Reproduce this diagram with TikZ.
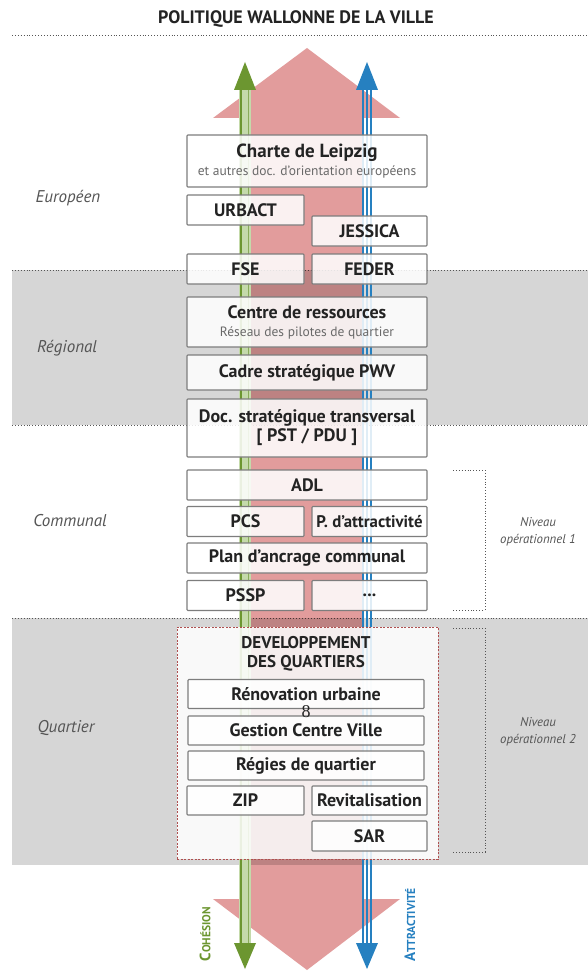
\documentclass[tikz,border=0pt]{standalone}
\usepackage{fontspec}
\setmainfont{PT Sans}
\newfontfamily\serifnum{Liberation Serif}
\usetikzlibrary{arrows.meta}
\definecolor{pinkA}{RGB}{226,156,156}
\definecolor{bandgray}{RGB}{214,214,214}
\definecolor{greenA}{RGB}{108,150,48}
\definecolor{greenL}{RGB}{196,218,170}
\definecolor{blueA}{RGB}{38,128,192}
\definecolor{boxline}{RGB}{125,125,125}
\definecolor{txt}{RGB}{35,35,35}
\definecolor{lbl}{RGB}{85,85,85}
\definecolor{subtxt}{RGB}{105,105,105}
\definecolor{dashred}{RGB}{175,80,80}
\begin{document}
\begin{tikzpicture}[x=1pt,y=-1pt,
  box/.style={draw=boxline, line width=1.1pt, fill=white, fill opacity=0.86, text opacity=1,
    text=txt, font=\bfseries\fontsize{18}{19}\selectfont, inner sep=0pt, align=center, rounded corners=0.8pt},
  wide/.style={box, minimum width=240, minimum height=30},
  halfl/.style={box, minimum width=117, minimum height=30},
  halfr/.style={box, minimum width=115, minimum height=30},
  inner/.style={box, minimum width=236, minimum height=29},
  sepline/.style={dotted, draw=lbl, line width=0.9pt},
  side/.style={text=lbl, font=\itshape\fontsize{17}{18}\selectfont},
  niveau/.style={text=lbl, font=\itshape\fontsize{12.8}{17}\selectfont, align=center},
  subfont/.style={}]
\useasboundingbox (0,0) rectangle (588,971);
\fill[white] (0,0) rectangle (588,971);
% bands
\fill[bandgray] (12,270) rectangle (588,425);
\fill[bandgray] (12,618) rectangle (588,865);
\draw[sepline] (12,35) -- (588,35);
\draw[sepline] (12,270) -- (588,270);
\draw[sepline] (12,425) -- (588,425);
\draw[sepline] (12,618) -- (588,618);
% title
\node[text=txt, font=\bfseries\fontsize{18}{19}\selectfont] (title) at (296,19) {POLITIQUE WALLONNE DE LA VILLE};
% big pink double arrow
\begin{scope}[blend mode=multiply]
\fill[pinkA] (250,118) -- (213,118) -- (307,48) -- (400,118) -- (362,118) -- (362,899)
  -- (400,899) -- (307,970) -- (213,899) -- (250,899) -- cycle;
\end{scope}
% green arrow
\fill[greenL] (239,88) rectangle (251,945);
\draw[greenA, line width=2.4pt] (241,88) -- (241,945);
\draw[greenA!80, line width=0.8pt] (248,88) -- (248,945);
\fill[greenA] (234,90) -- (245,62) -- (256,90) -- cycle;
\fill[greenA] (234,943) -- (245,969) -- (256,943) -- cycle;
% blue arrow
\foreach \bx in {363,367,371} {\draw[blueA, line width=1.2pt] (\bx,88) -- (\bx,945);}
\fill[blueA] (356,90) -- (367,62) -- (378,90) -- cycle;
\fill[blueA] (356,943) -- (367,969) -- (378,943) -- cycle;
% arrow labels
\node[rotate=90, text=greenA, font=\bfseries] (coh) at (205,934)
  {{\fontsize{15}{15}\selectfont C}{\fontsize{11.5}{12}\selectfont OHÉSION}};
\node[rotate=90, text=blueA, font=\bfseries] (att) at (410,925)
  {{\fontsize{15}{15}\selectfont A}{\fontsize{11.5}{12}\selectfont TTRACTIVITÉ}};
% level labels
\node[side] (eur) at (68,198) {Européen};
\node[side] (reg) at (67,348) {Régional};
\node[side] (com) at (70,521) {Communal};
\node[side] (qua) at (66,728) {Quartier};
% brackets
\draw[sepline] (453,470) -- (485,470) -- (485,610) -- (453,610);
\draw[sepline] (453,628) -- (485,628) -- (485,852) -- (453,852);
\node[niveau] (n1) at (538,532) {Niveau\\opérationnel 1};
\node[niveau] (n2) at (538,732) {Niveau\\opérationnel 2};
% european boxes
\node[wide, minimum height=52] (charte) at (307,161)
  {{\fontsize{19}{19}\selectfont Charte de Leipzig}\\[-1pt]{\fontsize{13.5}{14}\mdseries\selectfont\color{subtxt}et autres doc. d’orientation européens}};
\node[halfl] (urbact) at (245.5,210) {URBACT};
\node[halfr] (jessica) at (369.5,231) {JESSICA};
\node[halfl] (fse) at (245.5,269) {FSE};
\node[halfr] (feder) at (369.5,269) {FEDER};
% regional boxes
\node[wide, minimum height=50] (centre) at (307,322)
  {Centre de ressources\\[-1pt]{\fontsize{13.5}{14}\mdseries\selectfont\color{subtxt}Réseau des pilotes de quartier}};
\node[wide, minimum height=35] (cadre) at (307,372.5) {Cadre stratégique PWV};
\node[wide, minimum height=58] (doc) at (307,428) {Doc. stratégique transversal\\{[} PST / PDU ]};
% communal boxes
\node[wide] (adl) at (307,485) {ADL};
\node[halfl] (pcs) at (245.5,521.5) {PCS};
\node[halfr, font=\bfseries\fontsize{16.8}{18}\selectfont] (patt) at (369.5,521.5) {P. d’attractivité};
\node[wide] (plan) at (307,558) {Plan d’ancrage communal};
\node[halfl] (pssp) at (245.5,595.5) {PSSP};
\node[halfr] (dots) at (369.5,595.5) {...};
% quartier
\node[draw=dashred, dash pattern=on 2pt off 1.5pt, line width=1pt, fill=white, fill opacity=0.86,
  minimum width=261, minimum height=232, inner sep=0pt] (dev) at (307.5,743) {};
\node[text=txt, font=\bfseries\fontsize{17}{19}\selectfont, align=center] (devt) at (306,654)
  {DEVELOPPEMENT\\DES QUARTIERS};
\node[inner] (renov) at (306,694) {Rénovation urbaine};
\node[inner] (gest) at (306,730.5) {Gestion Centre Ville};
\node[inner] (regie) at (306,765.5) {Régies de quartier};
\node[halfl, minimum height=29] (zip) at (245.5,800.5) {ZIP};
\node[halfr, minimum height=29] (revit) at (369.5,800.5) {Revitalisation};
\node[halfr] (sar) at (369.5,836) {SAR};
\node[text=txt, font=\serifnum\fontsize{18}{18}\selectfont] (amp) at (306,712) {8};
\end{tikzpicture}
\end{document}
